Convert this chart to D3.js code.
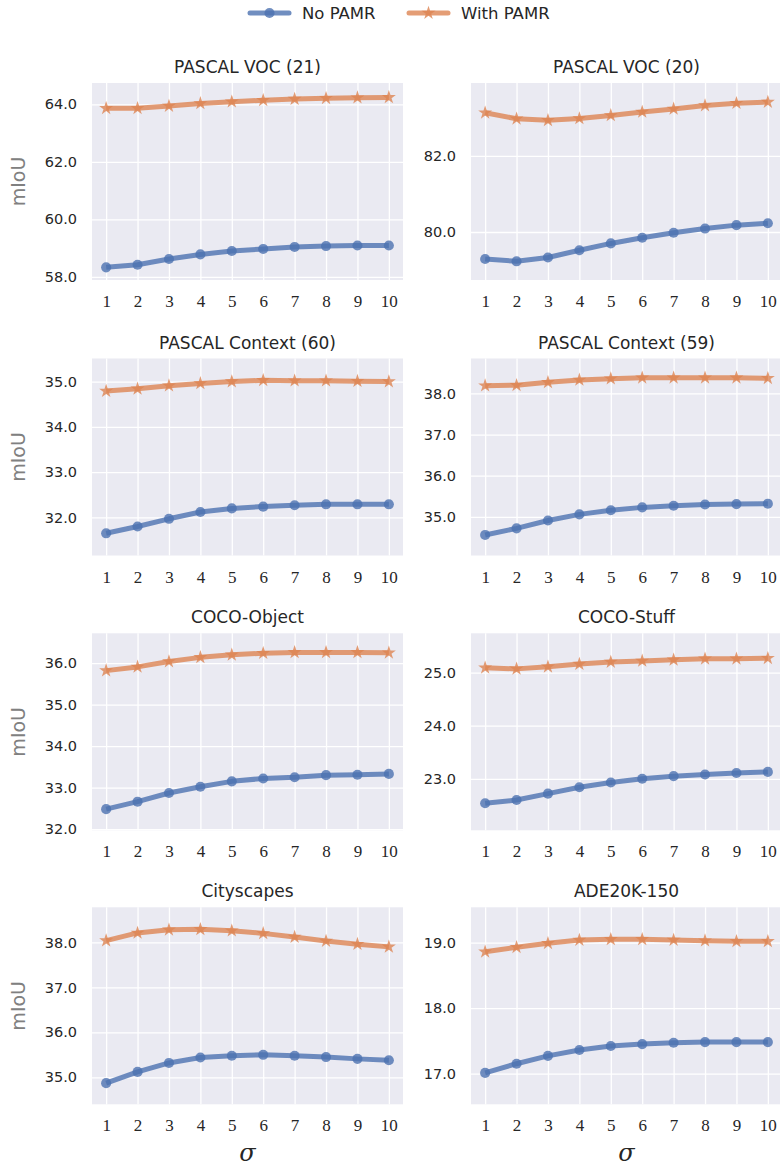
<!DOCTYPE html>
<html>
<head>
<meta charset="utf-8">
<script src="https://cdn.jsdelivr.net/npm/d3@7"></script>
<style>
  body { margin: 0; background: #fff; }
  svg text { font-family: "DejaVu Sans", sans-serif; fill: #262626; }
  .xt text { font-family: "Liberation Serif", "DejaVu Serif", serif; }
</style>
</head>
<body>
<svg id="chart"></svg>
<script>
// sigma values on the x axis
var sigma = [1, 2, 3, 4, 5, 6, 7, 8, 9, 10];

var titles = ["PASCAL VOC (21)", "PASCAL VOC (20)", "PASCAL Context (60)", "PASCAL Context (59)",
              "COCO-Object", "COCO-Stuff", "Cityscapes", "ADE20K-150"];

var noPamr = [
  [58.33, 58.42, 58.62, 58.78, 58.90, 58.97, 59.04, 59.07, 59.09, 59.09],
  [79.29, 79.23, 79.33, 79.52, 79.70, 79.85, 79.98, 80.09, 80.18, 80.23],
  [31.65, 31.80, 31.97, 32.12, 32.20, 32.24, 32.27, 32.29, 32.29, 32.29],
  [34.56, 34.72, 34.91, 35.06, 35.16, 35.23, 35.27, 35.30, 35.31, 35.32],
  [32.48, 32.66, 32.87, 33.02, 33.15, 33.22, 33.25, 33.30, 33.31, 33.33],
  [22.54, 22.60, 22.72, 22.84, 22.93, 23.00, 23.05, 23.08, 23.11, 23.13],
  [34.87, 35.12, 35.32, 35.44, 35.48, 35.50, 35.48, 35.45, 35.41, 35.38],
  [17.01, 17.15, 17.27, 17.36, 17.42, 17.45, 17.47, 17.48, 17.48, 17.48]
];

var withPamr = [
  [63.86, 63.86, 63.94, 64.03, 64.09, 64.14, 64.18, 64.21, 64.23, 64.24],
  [83.13, 82.97, 82.93, 82.98, 83.06, 83.15, 83.23, 83.32, 83.38, 83.41],
  [34.79, 34.84, 34.91, 34.96, 35.00, 35.03, 35.02, 35.02, 35.01, 35.00],
  [38.19, 38.20, 38.27, 38.33, 38.36, 38.38, 38.38, 38.38, 38.38, 38.37],
  [35.82, 35.91, 36.04, 36.14, 36.20, 36.24, 36.26, 36.26, 36.26, 36.25],
  [25.09, 25.07, 25.11, 25.16, 25.20, 25.22, 25.24, 25.26, 25.26, 25.27],
  [38.04, 38.21, 38.28, 38.29, 38.26, 38.20, 38.12, 38.03, 37.96, 37.90],
  [18.86, 18.93, 18.99, 19.04, 19.05, 19.05, 19.04, 19.03, 19.02, 19.02]
];

var yLimits = [
  [57.89, 64.74], [78.74, 83.91], [31.16, 35.51], [34.06, 38.85],
  [31.97, 36.72], [22.03, 25.74], [34.40, 38.78], [16.53, 19.54]
];

var yTicks = [
  [58, 60, 62, 64], [80, 82], [32, 33, 34, 35], [35, 36, 37, 38],
  [32, 33, 34, 35, 36], [23, 24, 25], [35, 36, 37, 38], [17, 18, 19]
];

var seriesNames = ["No PAMR", "With PAMR"];
var seriesColors = ["#4c72b0", "#dd8452"];

var width = 780, height = 1170;
var panelW = 311, panelH = 197;
var colX = [92, 471];
var rowY = [83, 358.5, 633.3, 907.3];

var svg = d3.select("#chart").attr("width", width).attr("height", height);

var star = d3.symbol().type(d3.symbolStar).size(60);
var dot = d3.symbol().type(d3.symbolCircle).size(80);

titles.forEach(function(title, i) {
  var col = i % 2, row = Math.floor(i / 2);
  var g = svg.append("g")
    .attr("transform", "translate(" + colX[col] + "," + rowY[row] + ")");

  var x = d3.scaleLinear().domain([0.55, 10.45]).range([0, panelW]);
  var y = d3.scaleLinear().domain(yLimits[i]).range([panelH, 0]);

  g.append("rect").attr("width", panelW).attr("height", panelH).attr("fill", "#eaeaf2");

  var yAxis = g.append("g")
    .call(d3.axisLeft(y).tickValues(yTicks[i]).tickSize(-panelW).tickPadding(15).tickFormat(d3.format(".1f")));
  var xAxis = g.append("g").attr("class", "xt")
    .attr("transform", "translate(0," + panelH + ")")
    .call(d3.axisBottom(x).tickValues(sigma).tickSize(-panelH).tickPadding(15).tickFormat(d3.format("d")));

  [xAxis, yAxis].forEach(function(a) {
    a.select(".domain").remove();
    a.selectAll(".tick line").attr("stroke", "#fff").attr("stroke-width", 1.3);
  });
  yAxis.selectAll(".tick text").attr("font-size", 14.5).attr("fill", "#262626");
  xAxis.selectAll(".tick text").attr("font-size", 17).attr("fill", "#262626");

  g.append("text")
    .attr("x", panelW / 2).attr("y", -10)
    .attr("text-anchor", "middle")
    .attr("font-size", 17)
    .text(title);

  if (col === 0) {
    g.append("text")
      .attr("transform", "translate(" + (-67) + "," + (panelH / 2) + ") rotate(-90)")
      .attr("text-anchor", "middle")
      .attr("font-size", 19)
      .style("fill", "#808080")
      .text("mIoU");
  }
  if (row === 3) {
    g.append("text")
      .attr("x", panelW / 2).attr("y", panelH + 57)
      .attr("text-anchor", "middle")
      .attr("font-size", 24)
      .style("font-family", "'DejaVu Serif', serif")
      .style("font-style", "italic")
      .text("σ");
  }

  var line = d3.line()
    .x(function(d, k) { return x(sigma[k]); })
    .y(function(d) { return y(d); });

  [noPamr[i], withPamr[i]].forEach(function(vals, s) {
    g.append("path")
      .datum(vals)
      .attr("d", line)
      .attr("fill", "none")
      .attr("stroke", seriesColors[s])
      .attr("stroke-width", 5)
      .attr("stroke-opacity", 0.8)
      .attr("stroke-linejoin", "round");
    g.selectAll(".m" + s)
      .data(vals)
      .enter().append("path")
      .attr("class", "m" + s)
      .attr("transform", function(d, k) { return "translate(" + x(sigma[k]) + "," + y(d) + ")"; })
      .attr("d", s === 0 ? dot : star)
      .attr("fill", seriesColors[s])
      .attr("fill-opacity", 0.8);
  });
});

// legend
var legend = svg.append("g");
var legX = [250, 409];
seriesNames.forEach(function(name, s) {
  var lg = legend.append("g").attr("transform", "translate(" + legX[s] + ",13)");
  lg.append("line").attr("x1", 0).attr("x2", 39)
    .attr("stroke", seriesColors[s]).attr("stroke-width", 5)
    .attr("stroke-opacity", 0.8).attr("stroke-linecap", "round");
  lg.append("path").attr("transform", "translate(19.5,0)")
    .attr("d", s === 0 ? dot : star)
    .attr("fill", seriesColors[s]).attr("fill-opacity", 0.8);
  lg.append("text").attr("x", 52).attr("y", 6)
    .attr("font-size", 16.5).text(name);
});
</script>
</body>
</html>
